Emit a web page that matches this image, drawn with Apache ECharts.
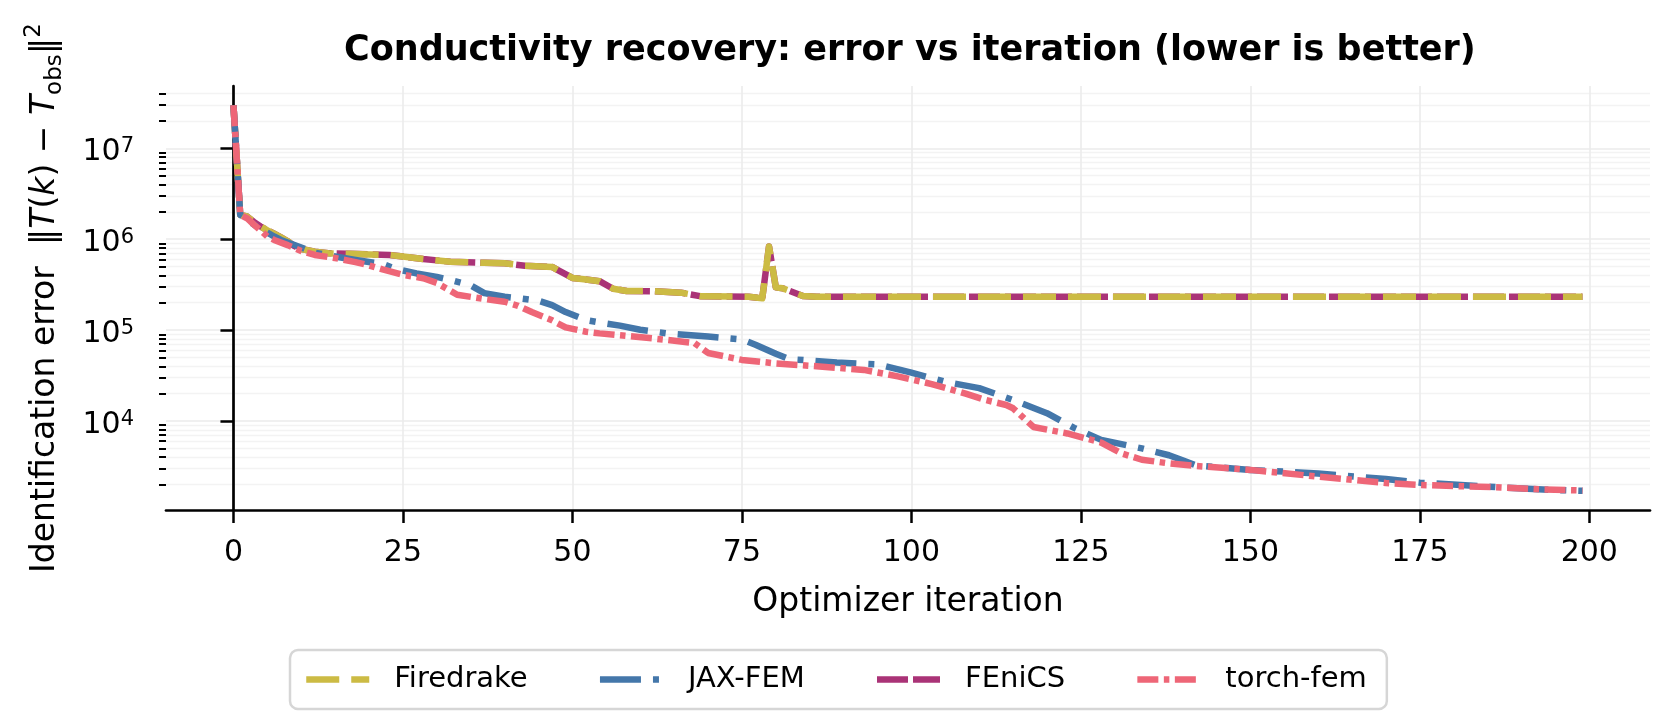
<!DOCTYPE html>
<html><head><meta charset="utf-8">
<script src="https://cdn.jsdelivr.net/npm/echarts@6/dist/echarts.min.js"></script>
<style>html,body{margin:0;padding:0;background:#fff}#c{width:1672px;height:723px}</style>
</head><body><div id="c"></div>
<script>
// ---- data ----
const firedrakeIter = [0,1,2,3,4,5,6,7,8,9,10,12,14,17,20,23,25,28,32,37,40,43,47,48,50,52,54,56,58,62,66,69,76,78,79,80,81,82,84,86,100,130,160,199];
const firedrakeErr  = [2.97e7,1.85e6,1.78e6,1.55e6,1.38e6,1.25e6,1.15e6,1.05e6,9.5e5,8.4e5,7.8e5,7.3e5,7.0e5,6.9e5,6.8e5,6.7e5,6.45e5,6.05e5,5.65e5,5.5e5,5.43e5,5.1e5,4.95e5,4.5e5,3.75e5,3.6e5,3.45e5,2.85e5,2.69e5,2.68e5,2.58e5,2.35e5,2.33e5,2.24e5,8.3e5,2.95e5,2.88e5,2.7e5,2.37e5,2.33e5,2.33e5,2.33e5,2.33e5,2.33e5];
const fenicsIter = [0,1,2,3,4,5,6,7,8,9,10,12,14,17,20,23,25,28,32,37,40,43,47,48,50,52,54,56,58,62,66,69,76,78,79,80,81,82,84,86,100,130,160,199];
const fenicsErr  = [2.97e7,1.85e6,1.78e6,1.55e6,1.38e6,1.25e6,1.15e6,1.05e6,9.5e5,8.4e5,7.8e5,7.3e5,7.0e5,6.9e5,6.8e5,6.7e5,6.45e5,6.05e5,5.65e5,5.5e5,5.43e5,5.1e5,4.95e5,4.5e5,3.75e5,3.6e5,3.45e5,2.85e5,2.69e5,2.68e5,2.58e5,2.35e5,2.33e5,2.24e5,8.3e5,2.95e5,2.88e5,2.7e5,2.37e5,2.33e5,2.33e5,2.33e5,2.33e5,2.33e5];
const jaxIter = [0,1,2,3,4,5,6,7,8,10,12,15,18,20,22,24,27,30,32,35,37,40,42,45,47,49,52,55,57,60,64,70,75,77,80,82,89,95,100,105,110,115,120,124,128,134,138,140,142,150,160,170,175,187,194,199];
const jaxErr  = [2.97e7,1.85e6,1.65e6,1.45e6,1.3e6,1.18e6,1.07e6,9.8e5,9.2e5,8.1e5,7.1e5,6.45e5,5.9e5,5.6e5,5.35e5,4.7e5,4.2e5,3.85e5,3.56e5,3.1e5,2.55e5,2.33e5,2.24e5,2.1e5,1.88e5,1.58e5,1.29e5,1.18e5,1.12e5,1.01e5,9.2e4,8.5e4,7.9e4,6.9e4,5.5e4,4.8e4,4.4e4,4.2e4,3.4e4,2.7e4,2.3e4,1.7e4,1.22e4,8.4e3,6.2e3,5.0e3,4.2e3,3.7e3,3.25e3,2.9e3,2.65e3,2.3e3,2.1e3,1.86e3,1.75e3,1.71e3];
const torchIter = [0,1,2,3,4,5,6,8,10,12,15,18,20,22,25,28,30,33,37,40,42,44,47,49,52,54,59,64,68,70,75,80,86,93,98,103,108,111,114,115,118,123,128,131,134,138,142,150,160,170,175,187,193,199];
const torchErr  = [2.97e7,1.85e6,1.7e6,1.45e6,1.25e6,1.07e6,9.8e5,8.6e5,7.4e5,6.7e5,6.2e5,5.6e5,5.15e5,4.65e5,4.05e5,3.72e5,3.3e5,2.45e5,2.2e5,2.05e5,1.85e5,1.58e5,1.28e5,1.07e5,9.6e4,9.2e4,8.5e4,7.8e4,7.2e4,5.6e4,4.7e4,4.3e4,4.0e4,3.65e4,3.1e4,2.55e4,2.0e4,1.7e4,1.5e4,1.38e4,8.6e3,7.3e3,5.8e3,4.4e3,3.75e3,3.42e3,3.2e3,2.9e3,2.45e3,2.08e3,1.98e3,1.86e3,1.77e3,1.72e3];
const xTicks = [0,25,50,75,100,125,150,175,200];
const yMajor = [1e4,1e5,1e6,1e7];
const yMinor = [2e3,3e3,4e3,5e3,6e3,7e3,8e3,9e3,2e4,3e4,4e4,5e4,6e4,7e4,8e4,9e4,2e5,3e5,4e5,5e5,6e5,7e5,8e5,9e5,2e6,3e6,4e6,5e6,6e6,7e6,8e6,9e6,2e7,3e7,4e7];
const legendNames = ['Firedrake','JAX-FEM','FEniCS','torch-fem'];

const FONT = 'DejaVu Sans';
const zip = (xs, ys) => xs.map((x, i) => [x, ys[i]]);
const mk = (name, xs, ys, color, dash) => ({
  name, type: 'line', data: zip(xs, ys), symbol: 'none', showSymbol: false,
  lineStyle: { color, width: 6.5, type: dash, cap: 'butt', join: 'round' },
  itemStyle: { color }, emphasis: { disabled: true }, animation: false
});

const chart = echarts.init(document.getElementById('c'), null, { renderer: 'canvas' });
chart.setOption({
  backgroundColor: '#fff',
  animation: false,
  title: {
    text: 'Conductivity recovery: error vs iteration (lower is better)',
    left: 344, top: 31, padding: 0,
    textStyle: { fontFamily: FONT, fontSize: 35, fontWeight: 'bold', color: '#000', lineHeight: 40 }
  },
  grid: { left: 166, right: 22, top: 86, bottom: 213, containLabel: false },
  legend: {
    data: legendNames, left: 290, top: 650, orient: 'horizontal',
    itemWidth: 63, itemHeight: 28, itemGap: 69,
    padding: [15, 20, 15, 13],
    backgroundColor: '#fff', borderColor: '#d6d6d6', borderWidth: 2.5, borderRadius: 8,
    itemStyle: { opacity: 0, borderWidth: 0 },
    lineStyle: { width: 6.5, opacity: 1 },
    textStyle: { fontFamily: FONT, fontSize: 29, color: '#000', padding: [0, 0, 0, 20] }
  },
  xAxis: {
    type: 'value', min: -9.95, max: 208.95,
    name: 'Optimizer iteration', nameLocation: 'middle', nameGap: 72,
    nameTextStyle: { fontFamily: FONT, fontSize: 33, color: '#000', lineHeight: 40 },
    axisLine: { lineStyle: { color: '#000', width: 2.7 } },
    axisTick: { customValues: xTicks, length: 13, lineStyle: { color: '#000', width: 2.5 } },
    axisLabel: { customValues: xTicks, fontFamily: FONT, fontSize: 30, color: '#000', margin: 26, lineHeight: 34 },
    splitLine: { show: true, lineStyle: { color: '#ebebeb', width: 1.6 } }
  },
  yAxis: [{
    type: 'log', logBase: 10, min: 1050, max: 4.84e7, position: 'left', offset: 0,
    name: '{n|Identification error  ‖}{i|T}{n|(}{i|k}{n|) − }{i|T}{sub|obs}{n|‖}{sup|2}',
    nameLocation: 'middle', nameGap: 99, nameRotate: 90,
    nameTextStyle: {
      rich: {
        n: { fontFamily: FONT, fontSize: 33, color: '#000', lineHeight: 44 },
        i: { fontFamily: FONT, fontSize: 33, fontStyle: 'italic', color: '#000', lineHeight: 44 },
        sub: { fontFamily: FONT, fontSize: 23, color: '#000', verticalAlign: 'bottom', lineHeight: 25.6 },
        sup: { fontFamily: FONT, fontSize: 23, color: '#000', verticalAlign: 'top', lineHeight: 25.6 }
      }
    },
    axisLine: { show: true, lineStyle: { color: '#000', width: 2.7 } },
    axisTick: { customValues: yMajor, length: 13, lineStyle: { color: '#000', width: 2.5 } },
    axisLabel: {
      customValues: yMajor, margin: 32, padding: [8, 0, 0, 0],
      formatter: v => '{b|10}{s|' + Math.round(Math.log10(v)) + '}',
      rich: {
        b: { fontFamily: FONT, fontSize: 30, color: '#000', lineHeight: 32 },
        s: { fontFamily: FONT, fontSize: 21, color: '#000', verticalAlign: 'top', lineHeight: 17 }
      }
    },
    splitLine: { show: true, lineStyle: { color: '#ebebeb', width: 1.6 } }
  }, {
    type: 'log', logBase: 10, min: 1050, max: 4.84e7, position: 'left', offset: 0,
    axisLine: { show: false },
    axisTick: { show: true, customValues: yMinor, length: 7, lineStyle: { color: '#000', width: 2 } },
    axisLabel: { show: false },
    splitLine: { show: true, lineStyle: { color: '#f3f3f3', width: 1.4 } }
  }],
  series: [
    mk('FEniCS', fenicsIter, fenicsErr, '#AA3377', [31, 5]),
    mk('Firedrake', firedrakeIter, firedrakeErr, '#CCBB44', [33, 12]),
    mk('JAX-FEM', jaxIter, jaxErr, '#4477AA', [41, 12, 6, 12]),
    mk('torch-fem', torchIter, torchErr, '#EE6677', [21, 5.5, 5.5, 5.5])
  ]
});
</script></body></html>
